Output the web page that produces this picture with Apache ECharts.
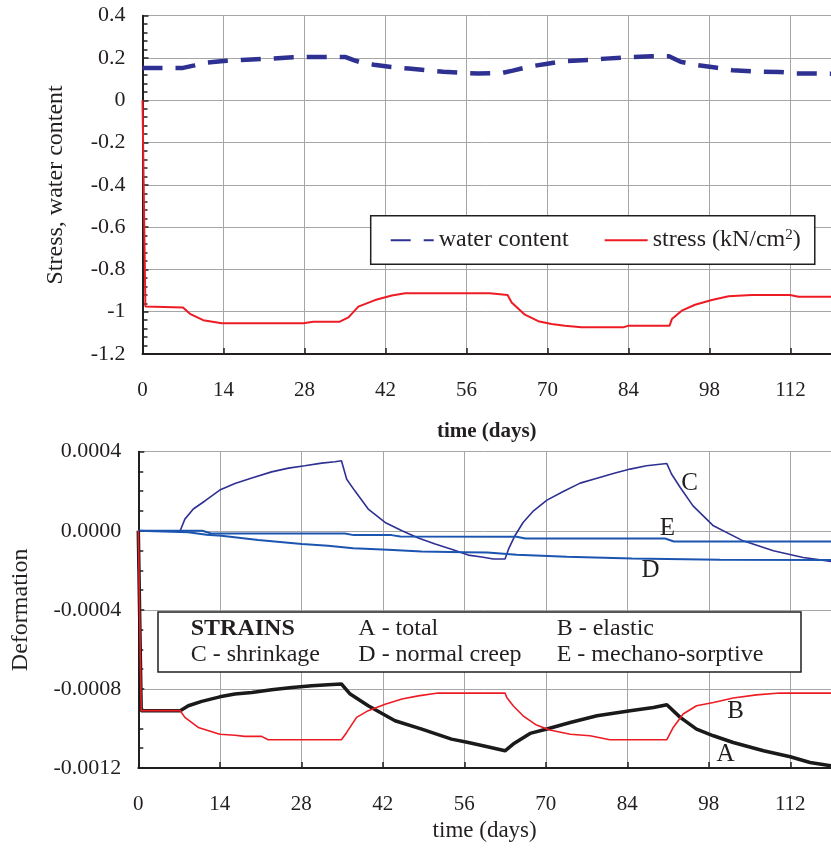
<!DOCTYPE html>
<html>
<head>
<meta charset="utf-8">
<title>Stress, water content and strains</title>
<script src="https://cdn.jsdelivr.net/npm/echarts@6/dist/echarts.min.js"></script>
<style>
  html, body { margin: 0; padding: 0; background: #fff; }
  #chart { width: 831px; height: 849px; }
</style>
</head>
<body>
<div id="chart"></div>
<script>
// time axis (days)
const dayTicks = [0, 14, 28, 42, 56, 70, 84, 98, 112]

// top panel: [day, value]
const waterContent = [
  [0, 0.153], [7, 0.153], [9, 0.165], [11, 0.178], [14, 0.186], [18, 0.192], [22, 0.197],
  [26, 0.203], [30, 0.205], [35, 0.205], [36.5, 0.19], [38, 0.177], [40, 0.168], [43, 0.157],
  [46, 0.15], [49, 0.142], [52, 0.135], [55, 0.13], [58, 0.127], [62, 0.128], [64, 0.14],
  [67, 0.16], [70, 0.173], [73, 0.185], [77, 0.19], [80, 0.197], [84, 0.203], [88, 0.208],
  [91, 0.208], [93, 0.182], [96, 0.166], [99, 0.155], [102, 0.142], [106, 0.136], [110, 0.134],
  [113, 0.127], [119, 0.126]
]

const stress = [
  [0, 0], [0.5, -0.975], [7, -0.98], [8.2, -1.01], [10.5, -1.04], [13.7, -1.055], [27.8, -1.055],
  [29.5, -1.047], [34.1, -1.047], [35.6, -1.027], [37.3, -0.976], [40.2, -0.945], [43.1, -0.923],
  [45.4, -0.913], [60, -0.913], [60.3, -0.921], [63.1, -0.921], [63.8, -0.956], [66.1, -1.014],
  [68.4, -1.045], [70.7, -1.058], [73, -1.066], [75.9, -1.074], [83.1, -1.074], [84, -1.066],
  [91.1, -1.066], [91.5, -1.035], [93.2, -0.995], [95.5, -0.967], [98.4, -0.945], [101.3, -0.927],
  [105.3, -0.921], [111.9, -0.921], [113.4, -0.929], [119, -0.929]
]

// bottom panel: strains [day, value]
const strainC = [
  [0, 0], [7.2, 0], [8, 0.59e-4], [9.45, 1.10e-4], [11.5, 1.52e-4], [14, 2.06e-4], [16.6, 2.39e-4],
  [19.5, 2.67e-4], [22.9, 2.98e-4], [25.8, 3.17e-4], [28.6, 3.29e-4], [31.5, 3.42e-4], [33.8, 3.49e-4],
  [34.9, 3.54e-4], [35.8, 2.61e-4], [37.2, 2.02e-4], [39.5, 1.10e-4], [42.4, 0.42e-4], [45.3, 0],
  [48.1, -0.37e-4], [51, -0.67e-4], [53.8, -0.93e-4], [56.7, -1.23e-4], [59, -1.33e-4], [61, -1.43e-4],
  [63, -1.43e-4], [63.6, -0.93e-4], [64.7, -0.25e-4], [66.1, 0.42e-4], [67.9, 1.01e-4], [70.2, 1.55e-4],
  [73, 1.99e-4], [75.9, 2.41e-4], [78.8, 2.66e-4], [81.6, 2.90e-4], [84.5, 3.12e-4], [87.3, 3.29e-4],
  [90.8, 3.40e-4], [91.6, 2.87e-4], [93.1, 2.19e-4], [95.3, 1.26e-4], [98.8, 0.25e-4], [103.9, -0.51e-4],
  [109.1, -1.01e-4], [114.2, -1.35e-4], [119, -1.55e-4]
]

const strainD = [
  [0, 0], [8.6, -0.08e-4], [11.7, -0.2e-4], [14.3, -0.25e-4], [20.6, -0.47e-4], [28.1, -0.67e-4],
  [32.6, -0.76e-4], [36.9, -0.88e-4], [42.9, -0.96e-4], [48.7, -1.05e-4], [56, -1.08e-4],
  [60, -1.10e-4], [65, -1.21e-4], [73.6, -1.32e-4], [84.8, -1.40e-4], [99.9, -1.47e-4], [119, -1.48e-4]
]

const strainE = [
  [0, 0], [11, 0], [12.5, -0.14e-4], [35.5, -0.14e-4], [37, -0.22e-4], [43.5, -0.22e-4],
  [45, -0.29e-4], [65, -0.30e-4], [66.5, -0.39e-4], [90.5, -0.39e-4], [92, -0.54e-4], [119, -0.54e-4]
]

const strainA = [
  [0, 0], [0.5, -9.10e-4], [7.2, -9.10e-4], [8.6, -8.85e-4], [10.9, -8.63e-4], [14, -8.40e-4],
  [16.6, -8.26e-4], [19.5, -8.18e-4], [22.9, -8.04e-4], [26.4, -7.93e-4], [29.8, -7.84e-4],
  [32.6, -7.79e-4], [34.9, -7.75e-4], [36.4, -8.26e-4], [39.5, -8.85e-4], [44.1, -9.61e-4],
  [48.7, -10.03e-4], [53.8, -10.54e-4], [56.7, -10.71e-4], [59.6, -10.90e-4], [63, -11.13e-4],
  [64.4, -10.79e-4], [67.3, -10.25e-4], [70.2, -10.03e-4], [74.2, -9.70e-4], [78.8, -9.36e-4],
  [84.5, -9.10e-4], [88.5, -8.94e-4], [90.8, -8.80e-4], [93.1, -9.44e-4], [95.9, -10.03e-4],
  [98.8, -10.37e-4], [102.2, -10.71e-4], [107.4, -11.13e-4], [112, -11.43e-4], [115.4, -11.72e-4],
  [119, -11.89e-4]
]

const strainB = [
  [0, 0], [0.5, -9.10e-4], [7.2, -9.10e-4], [8, -9.44e-4], [10.3, -9.95e-4], [14, -10.29e-4],
  [16.6, -10.34e-4], [18.3, -10.40e-4], [21.2, -10.40e-4], [22.3, -10.57e-4], [34.9, -10.57e-4],
  [35.8, -10.20e-4], [37.5, -9.44e-4], [39.5, -9.10e-4], [42.4, -8.77e-4], [45.3, -8.51e-4],
  [48.1, -8.35e-4], [51.5, -8.21e-4], [63, -8.21e-4], [63.3, -8.43e-4], [64.4, -8.85e-4],
  [66.1, -9.36e-4], [68.4, -9.83e-4], [70.7, -10.08e-4], [74.2, -10.29e-4], [77.6, -10.37e-4],
  [81, -10.57e-4], [90.8, -10.57e-4], [91.9, -9.95e-4], [93.6, -9.27e-4], [95.9, -8.85e-4],
  [98.8, -8.69e-4], [102.2, -8.46e-4], [106.2, -8.30e-4], [110.2, -8.21e-4], [119, -8.21e-4]
]

// curve letters placed in data coordinates
const curveLabels = {
  A: [100.9, -11.3e-4],
  B: [102.6, -9.14e-4],
  C: [94.7, 2.41e-4],
  D: [88.0, -2.02e-4],
  E: [90.9, 0.14e-4]
}

const FONT = '"Liberation Serif", "DejaVu Serif", serif'
const INK = '#231f20'
const GRID = '#a6a6a6'

const chart = echarts.init(document.getElementById('chart'), null, { renderer: 'canvas' })

const xAxisBase = {
  type: 'value',
  min: 0,
  max: 119,
  interval: dayTicks[1] - dayTicks[0],
  axisLine: { onZero: false, lineStyle: { color: INK, width: 2 } },
  axisTick: { inside: true, length: 6, lineStyle: { color: INK, width: 1.5 } },
  splitLine: { lineStyle: { color: GRID, width: 1 } },
  axisLabel: {
    fontFamily: FONT, fontSize: 21, color: INK, margin: 26, showMaxLabel: false,
    formatter: v => (dayTicks.includes(v) ? String(v) : '')
  },
  nameLocation: 'middle'
}

const yAxisBase = {
  type: 'value',
  axisLine: { show: true, onZero: false, lineStyle: { color: INK, width: 2 } },
  axisTick: { show: true, inside: true, length: 6, lineStyle: { color: INK, width: 1.5 } },
  minorTick: { show: true, length: 5, lineStyle: { color: INK, width: 1.5 } },
  splitLine: { lineStyle: { color: GRID, width: 1 } },
  nameLocation: 'middle',
  nameRotate: 90
}

const letterPoint = (key) => ({
  symbol: 'rect',
  symbolSize: 1,
  itemStyle: { color: 'rgba(0,0,0,0)' },
  label: {
    show: true, position: 'inside', formatter: key,
    fontFamily: FONT, fontSize: 25, color: INK
  },
  data: [{ coord: curveLabels[key] }]
})

const option = {
  animation: false,
  backgroundColor: '#fff',
  grid: [
    { left: 142.5, top: 15.7, right: 0, height: 338.3 },
    { left: 138.3, top: 451.7, right: 0, height: 316.3 }
  ],
  xAxis: [
    Object.assign({}, xAxisBase, {
      gridIndex: 0,
      name: 'time (days)',
      nameGap: 67,
      nameTextStyle: { fontFamily: FONT, fontSize: 21, fontWeight: 'bold', color: INK }
    }),
    Object.assign({}, xAxisBase, {
      gridIndex: 1,
      name: 'time (days)',
      nameGap: 51,
      nameTextStyle: { fontFamily: FONT, fontSize: 23, color: INK }
    })
  ],
  yAxis: [
    Object.assign({}, yAxisBase, {
      gridIndex: 0,
      min: -1.2,
      max: 0.4,
      interval: 0.2,
      minorTick: Object.assign({}, yAxisBase.minorTick, { splitNumber: 5 }),
      axisLabel: { fontFamily: FONT, fontSize: 22, color: INK, margin: 17 },
      name: 'Stress, water content',
      nameGap: 75,
      nameTextStyle: { fontFamily: FONT, fontSize: 24, color: INK }
    }),
    Object.assign({}, yAxisBase, {
      gridIndex: 1,
      min: -0.0012,
      max: 0.0004,
      interval: 0.0004,
      minorTick: Object.assign({}, yAxisBase.minorTick, { splitNumber: 4 }),
      axisLabel: {
        fontFamily: FONT, fontSize: 22, color: INK, margin: 17,
        formatter: v => v.toFixed(4)
      },
      name: 'Deformation',
      nameGap: 106,
      nameTextStyle: { fontFamily: FONT, fontSize: 24, color: INK }
    })
  ],
  legend: {
    left: 370.7,
    top: 215.7,
    orient: 'horizontal',
    padding: [12, 14, 12, 19],
    itemGap: 35,
    itemWidth: 43,
    itemHeight: 14,
    backgroundColor: '#fff',
    borderColor: INK,
    borderWidth: 1.5,
    itemStyle: { opacity: 0, borderWidth: 0 },
    data: ['water content', 'stress (kN/cm2)'],
    formatter: name => (name === 'stress (kN/cm2)' ? 'stress (kN/cm{sup|2})' : name),
    textStyle: {
      fontFamily: FONT, fontSize: 24, color: INK,
      rich: { sup: { fontFamily: FONT, fontSize: 15, color: INK, verticalAlign: 'top', padding: [0, 0, 10, 0] } }
    }
  },
  graphic: [
    {
      type: 'rect',
      shape: { x: 158, y: 612, width: 643, height: 60 },
      style: { fill: '#fff', stroke: INK, lineWidth: 1.5 },
      z: 10
    },
    { type: 'text', x: 190.7, y: 628.3, z: 11, style: { text: 'STRAINS', font: 'bold 24px ' + FONT, fill: INK, verticalAlign: 'middle' } },
    { type: 'text', x: 358.3, y: 628.3, z: 11, style: { text: 'A - total', font: '24px ' + FONT, fill: INK, verticalAlign: 'middle' } },
    { type: 'text', x: 556.7, y: 628.3, z: 11, style: { text: 'B - elastic', font: '24px ' + FONT, fill: INK, verticalAlign: 'middle' } },
    { type: 'text', x: 190.7, y: 655, z: 11, style: { text: 'C - shrinkage', font: '24px ' + FONT, fill: INK, verticalAlign: 'middle' } },
    { type: 'text', x: 358.3, y: 655, z: 11, style: { text: 'D - normal creep', font: '24px ' + FONT, fill: INK, verticalAlign: 'middle' } },
    { type: 'text', x: 556.7, y: 655, z: 11, style: { text: 'E - mechano-sorptive', font: '24px ' + FONT, fill: INK, verticalAlign: 'middle' } }
  ],
  series: [
    {
      name: 'water content',
      type: 'line',
      xAxisIndex: 0,
      yAxisIndex: 0,
      symbol: 'none',
      data: waterContent,
      lineStyle: { color: '#2e3192', width: 4.5, type: [20, 13] },
      itemStyle: { color: '#2e3192' }
    },
    {
      name: 'stress (kN/cm2)',
      type: 'line',
      xAxisIndex: 0,
      yAxisIndex: 0,
      symbol: 'none',
      data: stress,
      lineStyle: { color: '#ed1c24', width: 2 },
      itemStyle: { color: '#ed1c24' }
    },
    {
      name: 'C',
      type: 'line',
      xAxisIndex: 1,
      yAxisIndex: 1,
      symbol: 'none',
      data: strainC,
      lineStyle: { color: '#2e3192', width: 1.6 },
      markPoint: letterPoint('C')
    },
    {
      name: 'D',
      type: 'line',
      xAxisIndex: 1,
      yAxisIndex: 1,
      symbol: 'none',
      data: strainD,
      lineStyle: { color: '#1c55b0', width: 2 },
      markPoint: letterPoint('D')
    },
    {
      name: 'E',
      type: 'line',
      xAxisIndex: 1,
      yAxisIndex: 1,
      symbol: 'none',
      data: strainE,
      lineStyle: { color: '#1c55b0', width: 2 },
      markPoint: letterPoint('E')
    },
    {
      name: 'A',
      type: 'line',
      xAxisIndex: 1,
      yAxisIndex: 1,
      symbol: 'none',
      data: strainA,
      lineStyle: { color: '#1a1a1a', width: 3.5 },
      markPoint: letterPoint('A')
    },
    {
      name: 'B',
      type: 'line',
      xAxisIndex: 1,
      yAxisIndex: 1,
      symbol: 'none',
      data: strainB,
      lineStyle: { color: '#ed1c24', width: 1.6 },
      markPoint: letterPoint('B')
    }
  ]
}

chart.setOption(option)

window.addEventListener('resize', () => chart.resize())
</script>
</body>
</html>
